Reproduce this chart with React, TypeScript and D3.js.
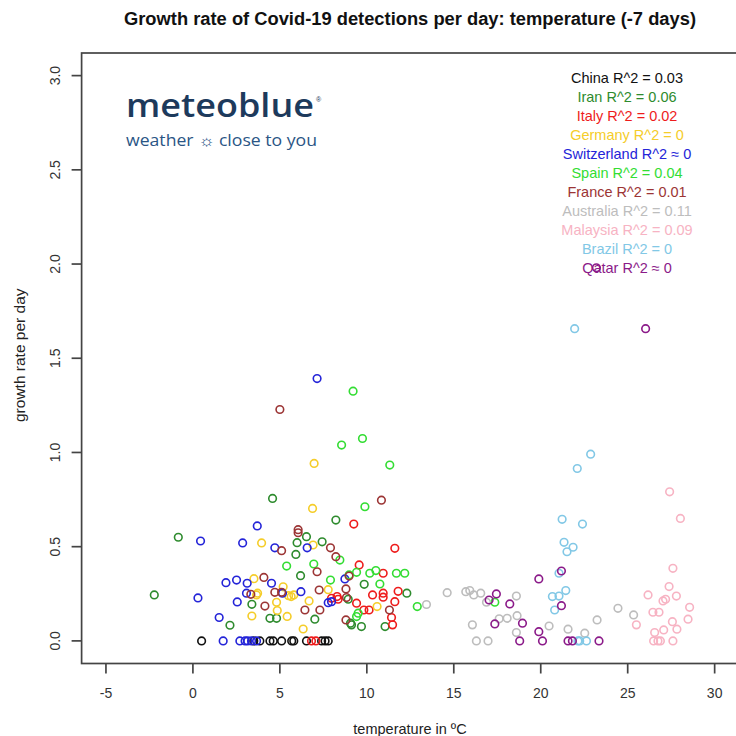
import React from "react";
import * as d3 from "d3";

const title = "Growth rate of Covid-19 detections per day: temperature (-7 days)";
const xLabel = "temperature in \u00BAC";
const yLabel = "growth rate per day";
const xTicks = [-5, 0, 5, 10, 15, 20, 25, 30];
const yTicks = [0, 0.5, 1, 1.5, 2, 2.5, 3];

const countries = ["China", "Iran", "Italy", "Germany", "Switzerland", "Spain", "France", "Australia", "Malaysia", "Brazil", "Qatar"];
const r2Labels = ["0.03", "0.06", "0.02", "0", "0", "0.04", "0.01", "0.11", "0.09", "0", "0"];
const r2Ops = ["=", "=", "=", "=", "\u2248", "=", "=", "=", "=", "=", "\u2248"];
const colors = ["#111111", "#2e8b2e", "#ee1c1c", "#f5cd2a", "#2424d8", "#33dd33", "#9c3535", "#bdbdbd", "#f7b3c3", "#82c8e6", "#8b1a89"];

const china: [number, number][] = [
  [0.5, 0], [3.5, 0], [3.85, 0], [4.43, 0], [4.62, 0], [5.1, 0], [5.68, 0], [5.8, 0], [6.53, 0], [7.4, 0], [7.6, 0], [7.78, 0],
];
const iran: [number, number][] = [
  [-2.22, 0.244], [-0.84, 0.55], [2.13, 0.083], [3.39, 0.194], [4.43, 0.12], [4.81, 0.12], [4.58, 0.756], [5.92, 0.459],
  [5.99, 0.521], [6.19, 0.346], [6.53, 0.553], [7.43, 0.526], [8.22, 0.641], [7.01, 0.115], [8.93, 0.221], [9.06, 0.094],
  [9.69, 0.076], [9.12, 0.085], [9.85, 0.3], [11.05, 0.076], [12.3, 0.253],
];
const italy: [number, number][] = [
  [9.25, 0.62], [11.61, 0.491], [9.56, 0.403], [10.94, 0.359], [7.97, 0.226], [8.35, 0.221], [8.29, 0.235], [9.41, 0.2],
  [9.83, 0.164], [10.13, 0.164], [10.33, 0.244], [10.94, 0.253], [10.94, 0.232], [11.8, 0.263], [11.61, 0.208],
  [11.42, 0.124], [11.48, 0.085], [6.82, 0], [7.07, 0],
];
const germany: [number, number][] = [
  [6.97, 0.942], [6.88, 0.703], [3.95, 0.52], [6.91, 0.509], [3.51, 0.33], [3.66, 0.244], [3.72, 0.253], [3.39, 0.132],
  [5.19, 0.287], [4.81, 0.205], [4.85, 0.161], [5.42, 0.13], [5.5, 0.24], [5.65, 0.235], [5.8, 0.244], [6.68, 0.212],
  [7.78, 0.272], [10.59, 0.182], [6.34, 0.063],
];
const switzerland: [number, number][] = [
  [7.14, 1.392], [0.44, 0.53], [3.7, 0.61], [2.86, 0.52], [4.71, 0.494], [6.57, 0.494], [0.29, 0.228], [1.9, 0.309],
  [2.51, 0.323], [3.12, 0.306], [4.52, 0.306], [3.08, 0.253], [2.55, 0.207], [1.51, 0.124], [6.21, 0.261], [5.15, 0.253],
  [7.78, 0.203], [7.97, 0.208], [8.74, 0.329], [1.74, 0], [2.7, 0], [3.0, 0], [3.15, 0], [3.37, 0], [3.66, 0],
];
const spain: [number, number][] = [
  [9.21, 1.325], [8.55, 1.039], [9.75, 1.074], [11.32, 0.933], [9.89, 0.712], [8.45, 0.429], [5.39, 0.397], [6.95, 0.408],
  [7.91, 0.323], [9.41, 0.364], [10.17, 0.359], [10.52, 0.373], [11.7, 0.359], [12.18, 0.359], [10.75, 0.302],
  [12.9, 0.182], [9.41, 0.129], [9.5, 0.147], [17.36, 0.205], [8.98, 0.35],
];
const france: [number, number][] = [
  [5.0, 1.228], [10.84, 0.747], [6.05, 0.574], [6.05, 0.59], [5.1, 0.479], [7.91, 0.494], [8.22, 0.447], [4.08, 0.337],
  [7.14, 0.367], [8.98, 0.344], [4.71, 0.258], [5.1, 0.258], [7.26, 0.27], [8.8, 0.276], [8.83, 0.23], [4.14, 0.185],
  [6.44, 0.164], [7.3, 0.164], [8.8, 0.111], [11.3, 0.164], [3.33, 0.247],
];
const australia: [number, number][] = [
  [13.43, 0.193], [14.62, 0.256], [15.69, 0.261], [15.92, 0.267], [16.15, 0.244], [16.55, 0.253], [16.88, 0.205],
  [18.6, 0.238], [16.07, 0.085], [17.61, 0.117], [18.07, 0.12], [18.64, 0.134], [18.6, 0.044], [20.48, 0.079],
  [21.57, 0.062], [16.3, 0], [16.97, 0], [24.44, 0.173], [25.34, 0.138], [23.24, 0.111], [22.53, 0.041],
];
const malaysia: [number, number][] = [
  [27.41, 0.791], [28.03, 0.65], [27.6, 0.385], [27.38, 0.288], [27.8, 0.238], [26.17, 0.244], [27.03, 0.212],
  [27.18, 0.221], [28.56, 0.178], [28.47, 0.115], [26.45, 0.152], [26.8, 0.152], [25.5, 0.085], [27.57, 0.102],
  [27.83, 0.062], [27.07, 0.058], [26.55, 0.044], [26.49, 0], [26.74, 0], [26.88, 0], [27.6, 0],
];
const brazil: [number, number][] = [
  [21.95, 1.657], [22.87, 0.991], [22.1, 0.915], [21.23, 0.645], [22.4, 0.62], [21.34, 0.523], [21.86, 0.497],
  [21.51, 0.473], [21.05, 0.359], [20.67, 0.235], [21.05, 0.238], [21.44, 0.267], [20.8, 0.164], [22.14, 0],
  [22.24, 0], [22.63, 0],
];
const qatar: [number, number][] = [
  [26.03, 1.657], [23.2, 1.98], [19.89, 0.329], [21.19, 0.371], [21.19, 0.187], [17.03, 0.217], [17.45, 0.249],
  [18.22, 0.196], [17.36, 0.09], [18.95, 0.094], [19.89, 0.049], [18.79, 0], [20.1, 0], [21.57, 0], [21.82, 0], [23.35, 0],
];

const series = [china, iran, italy, germany, switzerland, spain, france, australia, malaysia, brazil, qatar];

const W = 736;
const H = 736;
const left = 81.6;
const right = 739;
const top = 53;
const bottom = 663.5;
const font = "'Liberation Sans', Arial, Helvetica, sans-serif";

export default function App() {
  const x = d3.scaleLinear().domain([-6.4, 31.4]).range([left, right]);
  const y = d3.scaleLinear().domain([-0.12, 3.12]).range([bottom, top]);
  const midX = 410;

  return (
    <svg width={W} height={H} style={{ position: "absolute", left: 0, top: 0, background: "#fff" }} fontFamily={font}>
      <rect x={0} y={0} width={W} height={H} fill="#fff" />
      <text x={midX} y={25} textAnchor="middle" fontWeight="bold" fontSize={18} fill="#111" textLength={572} lengthAdjust="spacingAndGlyphs">{title}</text>

      {/* plot frame */}
      <rect x={left} y={top} width={right - left} height={bottom - top} fill="none" stroke="#444" strokeWidth={1.7} />

      {/* x axis */}
      {xTicks.map((t) => (
        <g key={"xt" + t}>
          <line x1={x(t)} x2={x(t)} y1={bottom} y2={bottom + 10} stroke="#444" strokeWidth={1.7} />
          <text x={x(t)} y={698} textAnchor="middle" fontSize={14} fill="#333">{t}</text>
        </g>
      ))}
      <text x={midX} y={734} textAnchor="middle" fontSize={14.5} fill="#222">{xLabel}</text>

      {/* y axis */}
      {yTicks.map((v) => (
        <g key={"yt" + v}>
          <line x1={left - 10} x2={left} y1={y(v)} y2={y(v)} stroke="#444" strokeWidth={1.7} />
          <text transform={`translate(${60},${y(v)}) rotate(-90)`} textAnchor="middle" fontSize={14} fill="#333">{v.toFixed(1)}</text>
        </g>
      ))}
      <text transform={`translate(${25},${(top + bottom) / 2 - 3}) rotate(-90)`} textAnchor="middle" fontSize={15.5} fill="#222">{yLabel}</text>

      {/* logo */}
      <text x={126} y={117} fontSize={33} fontWeight={600} fontFamily="'Open Sans', sans-serif" fill="#1d3a5c" textLength={188} lengthAdjust="spacingAndGlyphs">meteoblue</text>
      <text x={316} y={102} fontSize={7} fill="#1d3a5c">®</text>
      <text x={126} y={146} fontSize={15.5} fontFamily="'Open Sans', sans-serif" fill="#2a5585" textLength={191} lengthAdjust="spacingAndGlyphs">weather ☼ close to you</text>

      {/* points */}
      {series.map((s, i) => (
        <g key={countries[i]} fill="none" stroke={colors[i]} strokeWidth={1.6}>
          {s.map((p, j) => (
            <circle key={j} cx={x(p[0])} cy={y(p[1])} r={3.8} />
          ))}
        </g>
      ))}

      {/* legend */}
      {countries.map((c, i) => (
        <text key={"lg" + c} x={627} y={78 + i * 19 + 5} textAnchor="middle" fontSize={14.5} fill={colors[i]}>
          {`${c} R^2 ${r2Ops[i]} ${r2Labels[i]}`}
        </text>
      ))}
    </svg>
  );
}
